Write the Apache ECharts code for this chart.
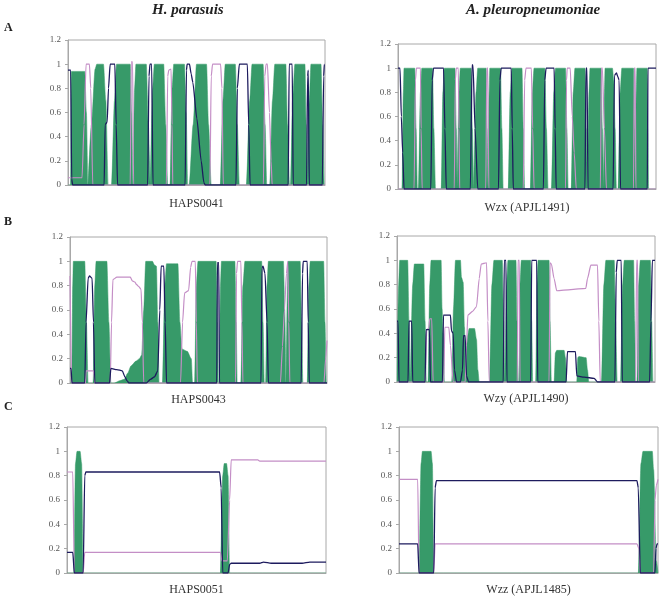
<!DOCTYPE html>
<html>
<head>
<meta charset="utf-8">
<script src="https://cdn.jsdelivr.net/npm/echarts@6/dist/echarts.min.js"></script>
<style>
  html, body { margin: 0; padding: 0; background: #fff; }
  #main { width: 661px; height: 598px; }
</style>
</head>
<body>
<div id="main"></div>
<script>
// y axis tick labels (probability)
const yLabels = ["0", "0.2", "0.4", "0.6", "0.8", "1", "1.2"];
const columnTitles = ["H. parasuis", "A. pleuropneumoniae"];
const rowLetters = ["A", "B", "C"];
const proteinNames = ["HAPS0041", "Wzx (APJL1491)", "HAPS0043", "Wzy (APJL1490)", "HAPS0051", "Wzz (APJL1485)"];
const seqLengths = [768, 770, 767, 772, 672, 775];

// ---- A left: HAPS0041 ----
const tmAL = [
  [[8,0],[10,0.94],[50,0.94],[55,0.6],[60,0]],
  [[61,0],[70,0.5],[81,0.96],[86,1],[106,1],[113,0.7],[120,0]],
  [[130,0],[139,0.7],[145,1],[186,1],[190,0.6],[195,0]],
  [[196,0],[199,0.8],[203,1],[234,1],[240,0.5],[246,0]],
  [[247,0],[253,0.8],[258,1],[286,1],[292,0.5],[298,0]],
  [[305,0],[311,0.8],[316,1],[348,1],[353,0.6],[358,0]],
  [[362,0],[374,0.5],[384,1],[414,1],[420,0.5],[428,0]],
  [[455,0],[463,0.7],[470,1],[500,1],[506,0.5],[512,0]],
  [[533,0],[543,0.7],[550,1],[583,1],[589,0.5],[594,0]],
  [[603,0],[611,0.7],[618,1],[651,1],[656,0.5],[662,0]],
  [[665,0],[671,0.7],[678,1],[708,1],[712,0.5],[715,0]],
  [[716,0],[721,0.7],[726,1],[756,1],[761,0.5],[766,0]]
];
const inAL = [[0,0.95],[8,0.95],[11,0.05],[14,0],[108,0],[111,0.5],[117,0.52],[121,0.8],[126,1],[140,1],[144,0.5],[148,0],
  [238,0],[242,0.9],[245,1],[250,1],[254,0],[350,0],[354,0.95],[356,1],[363,1],[368,0.92],[373,0.85],[385,0.55],[398,0.2],[406,0.02],[410,0],
  [502,0],[506,0.8],[512,1],[536,1],[540,0.5],[544,0],[658,0],[661,1],[670,1],[673,0],[713,0],[716,0.9],[718,0.95],[721,0],[760,0],[764,0.9],[766,1],[768,1]];
const outAL = [[0,0.06],[42,0.06],[48,0.5],[54,1],[64,1],[68,0.8],[74,0],[186,0],[189,1.02],[193,1.02],[196,0],
  [294,0],[298,0.9],[301,0.95],[308,0.96],[311,0.5],[313,0],[424,0],[428,0.9],[432,1],[456,1],[460,0.8],[464,0],
  [584,0],[588,0.9],[592,1],[596,1],[602,0.6],[607,0.2],[610,0],[768,0]];

// ---- A right: Wzx (APJL1491) ----
const tmAR = [
  [[12,0],[16,0.8],[18,1],[50,1],[54,0.5],[58,0]],
  [[61,0],[67,0.8],[71,1],[103,1],[107,0.5],[112,0]],
  [[129,0],[134,0.8],[138,1],[170,1],[174,0.5],[177,0]],
  [[178,0],[182,0.8],[186,1],[218,1],[222,0.5],[226,0]],
  [[228,0],[233,0.8],[238,1],[263,1],[266,0.5],[269,0]],
  [[270,0],[272,0.8],[274,1],[306,1],[310,0.5],[314,0]],
  [[329,0],[335,0.8],[340,1],[370,1],[374,0.5],[378,0]],
  [[395,0],[401,0.8],[406,1],[438,1],[443,0.5],[448,0]],
  [[458,0],[465,0.8],[470,1],[500,1],[504,0.5],[508,0]],
  [[517,0],[523,0.8],[528,1],[558,1],[562,0.5],[566,0]],
  [[567,0],[570,0.8],[573,1],[606,1],[610,0.5],[614,0]],
  [[615,0],[616,0.8],[618,1],[640,1],[644,0.9],[648,0.5],[652,0]],
  [[657,0],[663,0.8],[668,1],[703,1],[706,0.5],[709,0]],
  [[710,0],[711,0.8],[713,1],[744,1],[746,0.5],[748,0]]
];
const inAR = [[0,1],[6,1],[10,0.6],[14,0.3],[18,0],[98,0],[102,0.9],[106,1],[136,1],[140,0.5],[144,0],
  [216,0],[221,1.03],[224,1.02],[230,0.5],[238,0],[300,0],[304,0.9],[308,1],[338,1],[341,0.5],[344,0],
  [434,0],[438,0.9],[442,1],[466,1],[469,0.5],[472,0],[558,0],[561,1],[564,1],[567,0],
  [642,0],[646,0.94],[652,0.96],[656,0.93],[660,0.9],[664,0],[744,0],[746,1],[770,1]];
const outAR = [[0,0],[48,0],[52,0.9],[55,1],[67,1],[69,0.5],[72,0],[168,0],[171,0.9],[174,1],[180,1],[182,0.5],[184,0],
  [262,0],[265,1],[268,1],[271,0],[374,0],[378,0.9],[382,1],[398,1],[402,0.5],[406,0],
  [500,0],[503,0.9],[505,1],[514,1],[520,0.6],[526,0.3],[532,0],[604,0],[607,1],[610,1],[616,0.5],[622,0],
  [703,0],[705,1],[708,1],[710,0],[770,0]];

// ---- B left: HAPS0043 ----
const tmBL = [
  [[6,0],[8,0.8],[10,1],[44,1],[49,0.5],[54,0]],
  [[69,0],[74,0.8],[78,1],[110,1],[116,0.5],[122,0]],
  [[132,0],[150,0.02],[162,0.03],[172,0.08],[182,0.14],[197,0.18],[207,0.2],[214,0.23],[220,0.6],[226,1],[246,1],[252,0.97],[258,0.96],[262,0.5],[266,0]],
  [[276,0],[283,0.8],[288,0.98],[322,0.98],[328,0.5],[334,0.28],[350,0.26],[362,0.2],[366,0]],
  [[372,0],[377,0.8],[382,1],[436,1],[440,0.5],[443,0]],
  [[446,0],[449,0.8],[452,1],[492,1],[496,0.5],[499,0]],
  [[510,0],[516,0.8],[522,1],[572,1],[576,0.5],[580,0]],
  [[584,0],[588,0.8],[592,1],[637,1],[641,0.6],[645,0]],
  [[647,0],[649,0.8],[651,1],[687,1],[691,0.5],[695,0]],
  [[708,0],[713,0.8],[717,1],[757,1],[761,0.5],[765,0]]
];
const inBL = [[0,0.12],[3,0.12],[6,0],[44,0],[48,0.5],[54,0.86],[58,0.88],[66,0.86],[70,0.5],[74,0],
  [118,0],[122,0.12],[140,0.11],[156,0.1],[164,0.05],[170,0.02],[176,0],[228,0],[240,0.03],[252,0.05],[262,0.1],[268,0.6],[272,0.96],[280,0.96],[284,0.5],[288,0],
  [438,0],[440,0.99],[444,0.99],[446,0],[570,0],[573,0.95],[576,0.96],[582,0.9],[588,0.5],[592,0],
  [690,0],[694,0.9],[696,1],[708,1],[711,0.5],[714,0],[767,0]];
const outBL = [[0,0.88],[2,0.88],[5,0],[46,0],[48,0.1],[70,0.1],[74,0],[120,0],[124,0.5],[128,0.85],[140,0.87],[180,0.87],
  [186,0.84],[194,0.83],[198,0.81],[206,0.79],[212,0.77],[216,0.5],[220,0],[330,0],[336,0.5],[342,0.74],[354,0.76],[360,0.95],[364,1],[374,1],[377,0.5],[380,0],
  [494,0],[497,0.9],[500,1],[510,1],[513,0.5],[516,0],[628,0],[634,0.3],[640,0.6],[646,0.9],[650,1],[653,0.5],[656,0],
  [758,0],[763,0.2],[767,0.35]];

// ---- B right: Wzy (APJL1490) ----
const tmBR = [
  [[2,0],[5,0.8],[8,1],[32,1],[36,0.5],[40,0]],
  [[42,0],[47,0.8],[52,0.97],[80,0.97],[84,0.5],[88,0]],
  [[93,0],[98,0.8],[102,1],[132,1],[135,0.6],[138,0.4],[142,0]],
  [[164,0],[169,0.6],[175,1],[190,1],[193,0.86],[198,0.82],[202,0.45],[205,0]],
  [[207,0],[211,0.38],[216,0.44],[232,0.44],[238,0.35],[242,0.1],[246,0]],
  [[277,0],[284,0.8],[290,1],[315,1],[319,0.5],[323,0]],
  [[324,0],[328,0.8],[332,1],[356,1],[359,0.5],[362,0]],
  [[365,0],[368,0.8],[372,1],[400,1],[403,0.5],[406,0]],
  [[415,0],[419,0.8],[422,1],[455,1],[458,0.5],[462,0]],
  [[470,0],[474,0.24],[478,0.26],[500,0.26],[504,0.2],[508,0]],
  [[538,0],[541,0.2],[544,0.21],[566,0.2],[570,0.1],[574,0]],
  [[612,0],[619,0.8],[625,1],[650,1],[654,0.5],[659,0]],
  [[669,0],[675,0.8],[680,1],[708,1],[711,0.5],[714,0]],
  [[718,0],[723,0.8],[728,1],[758,1],[762,0.5],[766,0]]
];
const inBR = [[0,0.5],[3,0.5],[6,0],[33,0],[36,0.5],[44,0.5],[47,0],[84,0],[87,0.43],[97,0.43],[100,0],
  [136,0],[139,0.55],[160,0.55],[163,0.42],[168,0.4],[172,0.1],[178,0],[190,0],[196,0.1],[199,0.38],[204,0.38],[208,0.05],[214,0],
  [318,0],[321,1],[326,1],[329,0],[400,0],[403,1],[418,1],[421,0],[506,0],[510,0.25],[534,0.25],[538,0.05],[560,0.04],[590,0.03],[600,0],
  [652,0],[656,0.9],[659,1],[671,1],[674,0],[756,0],[760,0.5],[764,1],[772,1]];
const outBR = [[0,0],[84,0],[89,0.43],[95,0.44],[98,0.52],[104,0.52],[108,0],[140,0],[143,0.45],[155,0.45],[160,0.3],[168,0],
  [204,0],[208,0.3],[212,0.55],[226,0.58],[238,0.62],[246,0.85],[252,0.97],[268,0.98],[272,0.5],[276,0],
  [360,0],[362,1],[366,1],[368,0],[455,0],[458,0.98],[462,0.97],[470,0.85],[478,0.75],[520,0.76],[565,0.77],[570,0.85],[580,0.96],[600,0.96],[604,0.5],[608,0],
  [714,0],[717,1],[720,1],[722,0],[772,0]];

// ---- C left: HAPS0051 ----
const tmCL = [
  [[18,0],[22,0.9],[26,1],[34,1],[38,0.9],[42,0]],
  [[398,0],[404,0.8],[408,0.9],[414,0.9],[418,0.8],[422,0]]
];
const inCL = [[0,0.17],[15,0.17],[19,0],[42,0],[46,0.8],[49,0.83],[396,0.83],[400,0.7],[404,0],[418,0],[422,0.07],[426,0.08],
  [500,0.08],[510,0.09],[530,0.08],[610,0.08],[630,0.09],[672,0.09]];
const outCL = [[0,0.83],[15,0.83],[19,0],[42,0],[46,0.17],[398,0.17],[402,0.1],[416,0.1],[422,0.6],[426,0.93],[495,0.93],[500,0.92],[672,0.92]];

// ---- C right: Wzz (APJL1485) ----
const tmCR = [
  [[60,0],[66,0.9],[70,1],[96,1],[100,0.9],[104,0]],
  [[716,0],[724,0.9],[730,1],[758,1],[762,0.85],[770,0.1],[775,0]]
];
const inCR = [[0,0.24],[56,0.24],[60,0],[104,0],[108,0.7],[112,0.76],[712,0.76],[716,0.7],[722,0],[766,0],[769,0.2],[772,0.24],[775,0.24]];
const outCR = [[0,0.77],[56,0.77],[60,0],[104,0],[108,0.24],[712,0.24],[718,0.2],[722,0],[762,0],[766,0.6],[770,0.72],[775,0.77]];

const tmSets = [tmAL, tmAR, tmBL, tmBR, tmCL, tmCR];
const inSets = [inAL, inAR, inBL, inBR, inCL, inCR];
const outSets = [outAL, outAR, outBL, outBR, outCL, outCR];

// plot rectangles [left, top, width, height]
const gridBoxes = [
  [68, 40, 257, 145], [398, 44, 258, 145],
  [70, 237, 257, 146], [397, 236, 258, 146],
  [67, 427, 259, 146], [399, 427, 259, 146]
];

const GREEN = "#379a69";
const NAVY = "#1d1b5e";
const PINK = "#c48ec6";
const SERIF = "'Liberation Serif', 'DejaVu Serif', serif";

const grids = [], xAxes = [], yAxes = [], series = [];
gridBoxes.forEach(function (b, i) {
  grids.push({ left: b[0], top: b[1], width: b[2], height: b[3], show: true,
    borderColor: "#a8a8a8", borderWidth: 1, backgroundColor: "transparent" });
  xAxes.push({ type: "value", gridIndex: i, min: 0, max: seqLengths[i],
    axisLine: { show: true, lineStyle: { color: "#a8a8a8" } },
    axisTick: { show: false }, axisLabel: { show: false }, splitLine: { show: false },
    name: proteinNames[i], nameLocation: "middle", nameGap: i < 2 ? 13 : 11,
    nameTextStyle: { fontFamily: SERIF, fontSize: 12, color: "#333" } });
  yAxes.push({ type: "value", gridIndex: i, min: 0, max: 1.2, interval: 0.2,
    axisLine: { show: true, lineStyle: { color: "#a8a8a8" } },
    axisTick: { show: true, length: 3, lineStyle: { color: "#a8a8a8" } },
    splitLine: { show: false },
    axisLabel: { fontFamily: SERIF, fontSize: 9, color: "#555", margin: 7,
      formatter: function (v) { return yLabels[Math.round(v * 5)]; } } });

  // transmembrane area: helices joined along the zero baseline
  let tm = [[0, 0]];
  tmSets[i].forEach(function (h) { tm = tm.concat(h); });
  tm.push([seqLengths[i], 0]);
  series.push({ type: "line", xAxisIndex: i, yAxisIndex: i, data: tm, symbol: "none",
    smooth: 0.25, smoothMonotone: "x",
    lineStyle: { width: 0.5, color: GREEN }, areaStyle: { color: GREEN, opacity: 1 }, z: 2 });
  series.push({ type: "line", xAxisIndex: i, yAxisIndex: i, data: outSets[i], symbol: "none",
    smooth: 0.2, smoothMonotone: "x",
    lineStyle: { width: 1.2, color: PINK }, z: 3 });
  series.push({ type: "line", xAxisIndex: i, yAxisIndex: i, data: inSets[i], symbol: "none",
    smooth: 0.2, smoothMonotone: "x",
    lineStyle: { width: 1.3, color: NAVY }, z: 4 });
});

const graphics = [
  { type: "text", left: 152, top: 3, style: { text: columnTitles[0], font: "italic bold 15px " + SERIF, fill: "#222" } },
  { type: "text", left: 466, top: 3, style: { text: columnTitles[1], font: "italic bold 15px " + SERIF, fill: "#222" } },
  { type: "text", left: 4, top: 22, style: { text: rowLetters[0], font: "bold 12px " + SERIF, fill: "#222" } },
  { type: "text", left: 4, top: 216, style: { text: rowLetters[1], font: "bold 12px " + SERIF, fill: "#222" } },
  { type: "text", left: 4, top: 401, style: { text: rowLetters[2], font: "bold 12px " + SERIF, fill: "#222" } }
];

const chart = echarts.init(document.getElementById("main"));
chart.setOption({
  animation: false,
  grid: grids,
  xAxis: xAxes,
  yAxis: yAxes,
  series: series,
  graphic: graphics
});
window.onresize = function () { chart.resize(); };
</script>
</body>
</html>
